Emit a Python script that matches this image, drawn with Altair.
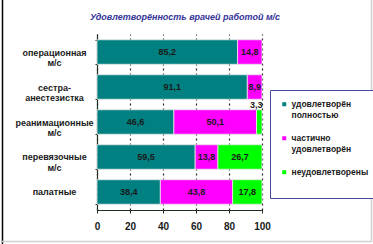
import altair as alt
import pandas as pd

title_text = "Удовлетворённость  врачей работой  м/с"
categories = ["операционная\nм/с", "сестра-\nанестезистка", "реанимационные\nм/с",
              "перевязочные\nм/с", "палатные"]
series = ["удовлетворён\nполностью", "частично\nудовлетворён", "неудовлетворены"]
colors = ["#008080", "#FF00FF", "#00FF00"]
full = [85.2, 91.1, 46.6, 59.5, 38.4]
partial = [14.8, 8.9, 50.1, 13.8, 43.8]
unsat = [0, 0, 3.3, 26.7, 17.8]
x_ticks = [0, 20, 40, 60, 80, 100]

rows = []
for i, c in enumerate(categories):
    for k, vals in enumerate([full, partial, unsat]):
        if vals[i] > 0:
            rows.append({"category": c, "series": series[k], "order": k, "value": vals[i]})
df = pd.DataFrame(rows)

FONT = "Liberation Sans"

base = alt.Chart(df).transform_stack(
    stack="value", groupby=["category"], as_=["x0", "x1"],
    sort=[alt.SortField("order", order="ascending")]
).transform_calculate(
    mid="(datum.x0 + datum.x1) / 2",
    label="replace(format(datum.value, '.1f'), '.', ',')"
)

yaxis = alt.Axis(labelExpr="split(datum.label, '\\n')", labelAlign="center",
                 labelBaseline="middle", labelPadding=41, labelFont=FONT,
                 labelFontSize=9, labelFontWeight="bold", labelColor="#1a1a1a",
                 labelLineHeight=10.5, tickBand="extent", tickSize=2,
                 tickColor="#1f2f1f", domainColor="#1f2f1f", domainWidth=1.2)
yscale = alt.Scale(paddingInner=0.3, paddingOuter=0.165)
xaxis = alt.Axis(values=x_ticks, grid=True, gridDash=[2, 3], gridColor="#222222",
                 gridWidth=1.2, gridOpacity=1, tickSize=3, tickColor="#1f2f1f",
                 domainColor="#1f2f1f",
                 domainWidth=1.2, labelFont=FONT, labelFontSize=10,
                 labelFontWeight="bold", labelColor="#1a1a1a", labelPadding=8,
                 labelOverlap=False, labelFlush=False)
xscale = alt.Scale(domain=[0, 100], nice=False)


def yenc():
    return alt.Y("category:N", sort=categories, title=None, scale=yscale, axis=yaxis)


def xenc(field):
    return alt.X(field, title=None, scale=xscale, axis=xaxis)


bars = base.mark_bar(stroke="#e8e8e8", strokeWidth=0.8).encode(
    x=xenc("x0:Q"),
    x2="x1:Q",
    y=yenc(),
    color=alt.Color("series:N", sort=series, scale=alt.Scale(domain=series, range=colors),
                    legend=alt.Legend(title=None, orient="none", legendX=173, legendY=56,
                                      labelExpr="split(datum.label + '\\n ', '\\n')",
                                      labelFont=FONT, labelFontSize=8.5, labelFontWeight="bold",
                                      labelColor="#1a1a1a",
                                      labelBaseline="middle",
                                      symbolType="square", symbolSize=16, symbolStrokeWidth=0,
                                      symbolOffset=0, labelOffset=3,
                                      rowPadding=4, padding=10, strokeColor="#4a4a9a",
                                      fillColor="white")),
    order=alt.Order("order:Q"),
)

text_in = base.mark_text(font=FONT, fontSize=9, fontWeight="bold", color="#1a1a1a").encode(
    x=xenc("mid:Q"), y=yenc(), text="label:N"
).transform_filter("datum.value >= 5")

text_small = base.mark_text(font=FONT, fontSize=9, fontWeight="bold", color="#1a1a1a",
                            dx=-3, dy=-17).encode(
    x=xenc("mid:Q"), y=yenc(), text="label:N"
).transform_filter("datum.value < 5")

one = alt.Data(values=[{"t": title_text}])
title = alt.Chart(one).mark_text(font=FONT, fontSize=9, fontWeight="bold", fontStyle="italic",
                                 color="#333399").encode(
    x=alt.value(88), y=alt.value(-17), text="t:N")

left_border = alt.Chart(one).mark_rule(color="#000000", strokeWidth=1.5).encode(
    x=alt.value(-94.5), y=alt.value(-34), y2=alt.value(210))
right_border = alt.Chart(one).mark_rule(color="#d0d0d0", strokeWidth=1.5).encode(
    x=alt.value(274.5), y=alt.value(-34), y2=alt.value(208))
bottom_border = alt.Chart(one).mark_rule(color="#d0d0d0", strokeWidth=1.5).encode(
    x=alt.value(-95), x2=alt.value(275), y=alt.value(207.5))

chart = alt.layer(bars, text_in, text_small, title, left_border, right_border, bottom_border
).properties(
    width=165, height=176,
    padding={"left": 97, "top": 34, "right": 111, "bottom": 34},
    autosize=alt.AutoSizeParams(type="none"),
    background="white",
).configure_view(stroke=None)

chart.save("out.html", embed_options={"renderer": "svg", "actions": False})
